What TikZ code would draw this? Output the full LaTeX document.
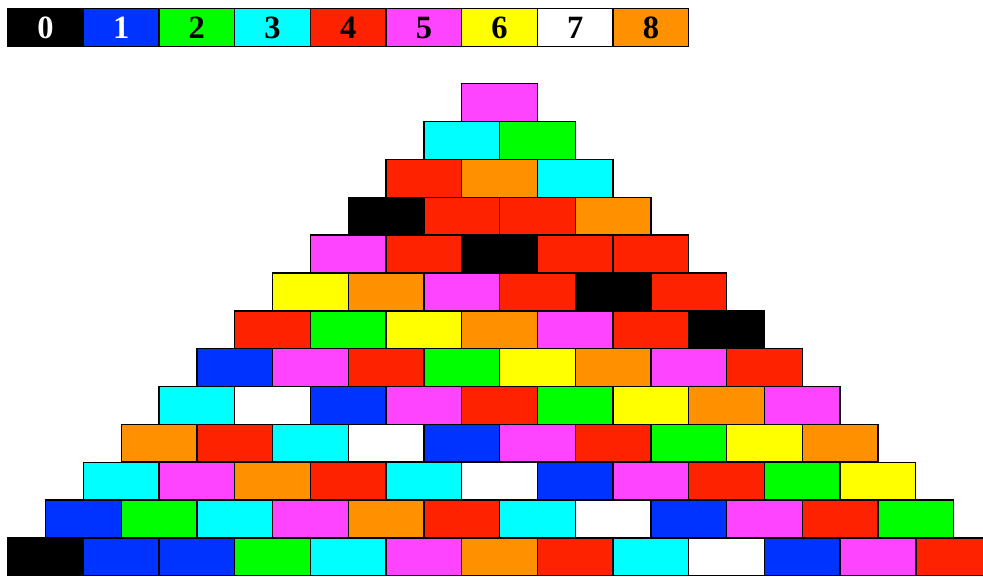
\documentclass[tikz,border=0pt]{standalone}
\usepackage{fontspec}
\setmainfont{Liberation Serif}
\definecolor{c0}{RGB}{0,0,0}
\definecolor{c1}{RGB}{0,51,255}
\definecolor{c2}{RGB}{0,255,0}
\definecolor{c3}{RGB}{0,255,255}
\definecolor{c4}{RGB}{255,34,0}
\definecolor{c5}{RGB}{255,68,255}
\definecolor{c6}{RGB}{255,255,0}
\definecolor{c7}{RGB}{255,255,255}
\definecolor{c8}{RGB}{255,144,0}
\begin{document}
\begin{tikzpicture}[x=0.02cm, y=-0.02cm,
    brick/.style={draw, line width=0.8pt, inner sep=0pt, anchor=north west,
      minimum width=1.5134cm, minimum height=0.757cm},
    keytext/.style={font=\fontsize{18.5}{20}\selectfont\bfseries}]
\useasboundingbox (0,0) rectangle (983,577);
% legenda
\foreach \v/\t in {0/white,1/white,2/black,3/black,4/black,5/black,6/black,7/black,8/black} {
    \node[brick, keytext, fill=c\v, text=\t] (key\v) at (7+\v*75.67, 8) {\v};
}
% triangolo
\foreach \r/\row in {1/{5}, 2/{3,2}, 3/{4,8,3}, 4/{0,4,4,8}, 5/{5,4,0,4,4},
    6/{6,8,5,4,0,4}, 7/{4,2,6,8,5,4,0}, 8/{1,5,4,2,6,8,5,4},
    9/{3,7,1,5,4,2,6,8,5}, 10/{8,4,3,7,1,5,4,2,6,8},
    11/{3,5,8,4,3,7,1,5,4,2,6}, 12/{1,2,3,5,8,4,3,7,1,5,4,2},
    13/{0,1,1,2,3,5,8,4,3,7,1,5,4}} {
    \foreach \v [count=\c] in \row {
        \node[brick, fill=c\v] (b\r-\c) at ({461-(\r-1)*37.83+(\c-1)*75.67}, {83+(\r-1)*37.85}) {};
    }
}
\end{tikzpicture}
\end{document}
